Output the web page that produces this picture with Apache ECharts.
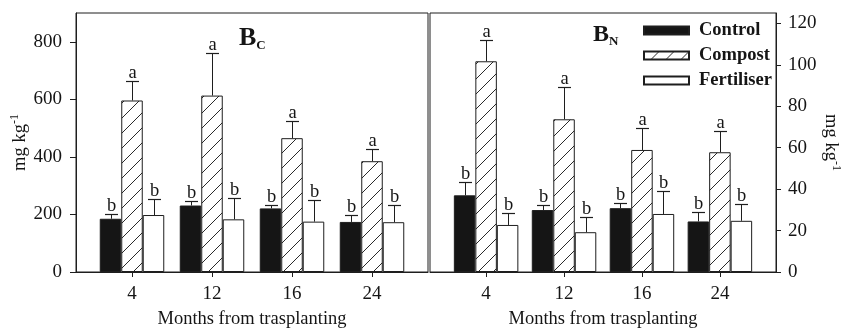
<!DOCTYPE html>
<html>
<head>
<meta charset="utf-8">
<script src="https://cdn.jsdelivr.net/npm/echarts@6.0.0/dist/echarts.min.js"></script>
<style>
html,body{margin:0;padding:0;background:#fff;}
#chart{width:843px;height:334px;}
</style>
</head>
<body>
<div id="chart"></div>
<script>
// ---- data ----
var months = ['4', '12', '16', '24'];
var seriesNames = ['Control', 'Compost', 'Fertiliser'];
// B_C panel (mg kg-1)
var bcControl = [185, 231, 221, 174];
var bcControlSE = [15, 17, 12, 25];
var bcCompost = [596, 613, 465, 385];
var bcCompostSE = [68, 147, 60, 41];
var bcFert = [198, 183, 175, 173];
var bcFertSE = [57, 74, 74, 59];
// B_N panel (mg kg-1)
var bnControl = [37.0, 29.9, 30.8, 24.4];
var bnControlSE = [6.3, 2.5, 2.6, 4.6];
var bnCompost = [101.7, 73.7, 58.9, 57.8];
var bnCompostSE = [10.5, 15.6, 10.8, 10.2];
var bnFert = [22.7, 19.2, 28.0, 24.7];
var bnFertSE = [5.9, 7.5, 11.0, 8.2];
var letters = ['b', 'a', 'b'];
var leftTicks = [0, 200, 400, 600, 800];
var rightTicks = [0, 20, 40, 60, 80, 100, 120];

// ---- styles ----
var FONT = '"Liberation Serif", "Times New Roman", serif';
var INK = '#151515';
var BW = 21.5;

function makeHatch() {
  var c = document.createElement('canvas');
  c.width = 15; c.height = 15;
  var g = c.getContext('2d');
  g.fillStyle = '#fff';
  g.fillRect(0, 0, 15, 15);
  g.strokeStyle = '#2a2a2a';
  g.lineWidth = 1;
  g.beginPath();
  g.moveTo(-1, 16); g.lineTo(16, -1);
  g.moveTo(-2, 2); g.lineTo(2, -2);
  g.moveTo(13, 17); g.lineTo(17, 13);
  g.stroke();
  return c;
}
var hatch = { image: makeHatch(), repeat: 'repeat' };
var fills = [INK, hatch, '#ffffff'];

var xVals = months.map(function (m, i) { return i + 1; });

function barSeries(idx, vals, axisIdx) {
  return {
    name: seriesNames[idx], type: 'bar',
    xAxisIndex: axisIdx, yAxisIndex: axisIdx,
    barWidth: BW, barGap: '0%',
    itemStyle: { color: fills[idx], borderColor: '#1e1e1e', borderWidth: 1 },
    data: xVals.map(function (x, i) { return [x, vals[i]]; }),
    z: 2
  };
}

function errSeries(idx, vals, ses, axisIdx) {
  var off = idx - 1;
  return {
    name: 'err' + axisIdx + idx, type: 'custom',
    xAxisIndex: axisIdx, yAxisIndex: axisIdx,
    encode: { x: 0, y: [1, 2] },
    data: xVals.map(function (x, i) { return [x, vals[i], vals[i] + ses[i]]; }),
    z: 3, silent: true,
    renderItem: function (params, api) {
      var p0 = api.coord([api.value(0), api.value(1)]);
      var p1 = api.coord([api.value(0), api.value(2)]);
      var cx = Math.round(p0[0] + off * BW) + 0.5;
      var yt = Math.round(p1[1]) + 0.5;
      return {
        type: 'group',
        children: [
          { type: 'line', shape: { x1: cx, y1: p0[1], x2: cx, y2: yt }, style: { stroke: '#1e1e1e', lineWidth: 1 } },
          { type: 'line', shape: { x1: cx - 6.5, y1: yt, x2: cx + 6.5, y2: yt }, style: { stroke: '#1e1e1e', lineWidth: 1.2 } },
          { type: 'text', style: { text: letters[idx], x: cx, y: yt + 1, align: 'center', verticalAlign: 'bottom', fontSize: 18.5, fontFamily: FONT, fill: INK } }
        ]
      };
    }
  };
}

var axisLineStyle = { color: '#1e1e1e', width: 1 };
var labelStyle = { fontFamily: FONT, fontSize: 19, color: INK };

function xAxisCfg(idx, min, max) {
  return {
    type: 'value', gridIndex: idx, min: min, max: max,
    name: 'Months from trasplanting', nameLocation: 'middle', nameGap: 38,
    nameTextStyle: { fontFamily: FONT, fontSize: 18.5, color: INK },
    axisLine: { show: true, lineStyle: axisLineStyle },
    axisTick: { show: true, length: 5, customValues: xVals, lineStyle: axisLineStyle },
    axisLabel: Object.assign({ margin: 13, customValues: xVals, formatter: function (v) { return months[Math.round(v) - 1]; } }, labelStyle),
    splitLine: { show: false }
  };
}

var option = {
  animation: false,
  backgroundColor: '#fff',
  grid: [
    { left: 76, right: 843 - 428, top: 13, bottom: 57, show: true, borderColor: '#1e1e1e', borderWidth: 1, containLabel: false },
    { left: 430, right: 843 - 785, top: 13, bottom: 57, show: true, borderColor: '#1e1e1e', borderWidth: 1, containLabel: false }
  ],
  title: [
    { text: '{b|B}{s|C}', left: 239, top: 24, padding: 0,
      textStyle: { rich: {
        b: { fontFamily: FONT, fontWeight: 'bold', fontSize: 26, color: INK, lineHeight: 28 },
        s: { fontFamily: FONT, fontWeight: 'bold', fontSize: 13, color: INK, verticalAlign: 'bottom', lineHeight: 14 } } } },
    { text: '{b|B}{s|N}', left: 593, top: 22, padding: 0,
      textStyle: { rich: {
        b: { fontFamily: FONT, fontWeight: 'bold', fontSize: 24, color: INK, lineHeight: 26 },
        s: { fontFamily: FONT, fontWeight: 'bold', fontSize: 13, color: INK, verticalAlign: 'bottom', lineHeight: 13 } } } }
  ],
  legend: {
    data: seriesNames, orient: 'vertical', left: 643, top: 21,
    itemWidth: 45, itemHeight: 8, itemGap: 6, icon: 'rect', padding: 0,
    textStyle: { fontFamily: FONT, fontWeight: 'bold', fontSize: 18.5, color: INK, lineHeight: 18, padding: [0, 0, 0, 5] }
  },
  xAxis: [xAxisCfg(0, 0.3, 4.7), xAxisCfg(1, 0.28, 4.72)],
  yAxis: [
    {
      type: 'value', gridIndex: 0, min: 0, max: 900, position: 'left',
      name: '{m|mg kg}{s|-1}', nameLocation: 'middle', nameGap: 45,
      nameTextStyle: { rich: {
        m: { fontFamily: FONT, fontSize: 18.5, color: INK, lineHeight: 22 },
        s: { fontFamily: FONT, fontSize: 12, color: INK, verticalAlign: 'top', lineHeight: 12 } } },
      axisLine: { show: true, lineStyle: axisLineStyle },
      axisTick: { show: true, length: 6, customValues: leftTicks, lineStyle: axisLineStyle },
      axisLabel: Object.assign({ margin: 14, customValues: leftTicks }, labelStyle),
      splitLine: { show: false }
    },
    {
      type: 'value', gridIndex: 1, min: 0, max: 125, position: 'right',
      name: '{m|mg kg}{s|-1}', nameLocation: 'middle', nameGap: 44, nameRotate: -90,
      nameTextStyle: { rich: {
        m: { fontFamily: FONT, fontSize: 18.5, color: INK, lineHeight: 22 },
        s: { fontFamily: FONT, fontSize: 12, color: INK, verticalAlign: 'top', lineHeight: 12 } } },
      axisLine: { show: true, lineStyle: axisLineStyle },
      axisTick: { show: true, length: 5, customValues: rightTicks, lineStyle: axisLineStyle },
      axisLabel: Object.assign({ margin: 12, customValues: rightTicks }, labelStyle),
      splitLine: { show: false }
    }
  ],
  series: [
    barSeries(0, bcControl, 0), barSeries(1, bcCompost, 0), barSeries(2, bcFert, 0),
    barSeries(0, bnControl, 1), barSeries(1, bnCompost, 1), barSeries(2, bnFert, 1),
    errSeries(0, bcControl, bcControlSE, 0), errSeries(1, bcCompost, bcCompostSE, 0), errSeries(2, bcFert, bcFertSE, 0),
    errSeries(0, bnControl, bnControlSE, 1), errSeries(1, bnCompost, bnCompostSE, 1), errSeries(2, bnFert, bnFertSE, 1)
  ]
};

var chart = echarts.init(document.getElementById('chart'), null, { renderer: 'canvas' });
chart.setOption(option);
</script>
</body>
</html>
